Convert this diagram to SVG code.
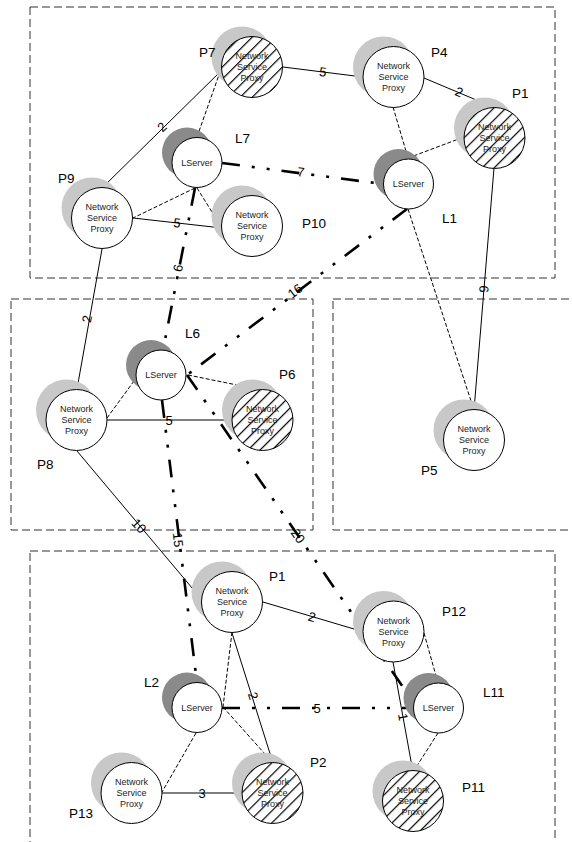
<svg xmlns="http://www.w3.org/2000/svg" xmlns:xlink="http://www.w3.org/1999/xlink" width="572" height="842" viewBox="0 0 572 842">
<style>
.box{fill:none;stroke:#333;stroke-width:1;stroke-dasharray:8 4}
.solid{stroke:#000;stroke-width:1;fill:none}
.dash{stroke:#000;stroke-width:1;fill:none;stroke-dasharray:4 2}
.heavy{stroke:#000;stroke-width:2.6;fill:none;stroke-dasharray:18 12 3 12 3 12}
.sh{fill:#c8c8c8}
.shd{fill:#8a8a8a}
.c{fill:#fff;stroke:#000;stroke-width:1}
.h{fill:url(#hatch);stroke:#000;stroke-width:1}
.nt{font-family:"Liberation Sans",Arial,sans-serif;font-size:9px;fill:#222;text-anchor:middle}
.lb{font-family:"Liberation Sans",Arial,sans-serif;font-size:13.5px;fill:#000}
.el{font-family:"Liberation Sans",Arial,sans-serif;font-size:13px;fill:#000;text-anchor:middle;dominant-baseline:central}
</style>
<defs>
<pattern id="hatch" patternUnits="userSpaceOnUse" width="8.5" height="8.5" patternTransform="rotate(45)">
<rect x="0" y="0" width="8.5" height="8.5" fill="#fff"/>
<line x1="0.6" y1="0" x2="0.6" y2="8.5" stroke="#000" stroke-width="1.2"/>
</pattern>
</defs>
<rect width="572" height="842" fill="#fff"/>
<g id="regions">
<rect class="box" x="30" y="7" width="525" height="271"/>
<rect class="box" x="11" y="299" width="302" height="231"/>
<rect class="box" x="333" y="299" width="260" height="231"/>
<rect class="box" x="30" y="551" width="525" height="320"/>
</g>
<g id="connectors">
<line class="solid" x1="102" y1="188" x2="222" y2="70"/>
<line class="solid" x1="283" y1="67" x2="363" y2="77"/>
<line class="solid" x1="424" y1="78" x2="493" y2="107"/>
<line class="solid" x1="133" y1="218" x2="222" y2="228"/>
<line class="solid" x1="102" y1="249" x2="77" y2="389"/>
<line class="solid" x1="494" y1="168" x2="474" y2="410"/>
<line class="solid" x1="107" y1="420" x2="232" y2="420"/>
<line class="solid" x1="77" y1="451" x2="203" y2="601"/>
<line class="solid" x1="263" y1="602" x2="354" y2="629"/>
<line class="solid" x1="232" y1="633" x2="273" y2="763"/>
<line class="solid" x1="162" y1="793" x2="242" y2="793"/>
<line class="solid" x1="393" y1="662" x2="413" y2="772"/>
<line class="dash" x1="197" y1="137" x2="220" y2="72"/>
<line class="dash" x1="195" y1="188" x2="133" y2="218"/>
<line class="dash" x1="197" y1="188" x2="222" y2="228"/>
<line class="dash" x1="393" y1="107" x2="408" y2="158"/>
<line class="dash" x1="408" y1="158" x2="464" y2="137"/>
<line class="dash" x1="408" y1="209" x2="474" y2="410"/>
<line class="dash" x1="107" y1="418" x2="134" y2="381"/>
<line class="dash" x1="188" y1="375" x2="237" y2="385"/>
<line class="dash" x1="232" y1="632" x2="223" y2="707"/>
<line class="dash" x1="223" y1="707" x2="273" y2="763"/>
<line class="dash" x1="196" y1="733" x2="162" y2="792"/>
<line class="dash" x1="424" y1="633" x2="438" y2="683"/>
<line class="dash" x1="438" y1="733" x2="413" y2="772"/>
<line class="heavy" x1="222" y1="163" x2="383" y2="184"/>
<line class="heavy" x1="407" y1="209" x2="187" y2="375"/>
<line class="heavy" x1="195" y1="188" x2="163" y2="350"/>
<line class="heavy" x1="162" y1="400" x2="197" y2="683"/>
<line class="heavy" x1="187" y1="375" x2="405" y2="690"/>
<line class="heavy" x1="222" y1="708" x2="413" y2="708"/>
<text class="el" transform="translate(162,127) rotate(-44)">2</text>
<text class="el" transform="translate(323,72) rotate(7)">5</text>
<text class="el" transform="translate(459,92) rotate(23)">2</text>
<text class="el" transform="translate(177,223) rotate(6)">5</text>
<text class="el" transform="translate(301,172) rotate(7)">7</text>
<text class="el" transform="translate(178,268) rotate(-79)">6</text>
<text class="el" transform="translate(295,291) rotate(-37)">16</text>
<text class="el" transform="translate(87,319) rotate(-80)">2</text>
<text class="el" transform="translate(484,289) rotate(95)">6</text>
<text class="el" transform="translate(169,420)">5</text>
<text class="el" transform="translate(178,540) rotate(83)">15</text>
<text class="el" transform="translate(298,536) rotate(55)">20</text>
<text class="el" transform="translate(139,526) rotate(47)">10</text>
<text class="el" transform="translate(312,617) rotate(16)">2</text>
<text class="el" transform="translate(253,696) rotate(73)">2</text>
<text class="el" transform="translate(317,708)">5</text>
<text class="el" transform="translate(202,793)">3</text>
<text class="el" transform="translate(403,717) rotate(80)">1</text>
</g>
<g id="P7"><circle class="sh" cx="242" cy="57" r="30.5"/><circle class="h" cx="252" cy="67" r="30.5"/><text class="nt" x="252" y="59">Network</text><text class="nt" x="252" y="70">Service</text><text class="nt" x="252" y="81">Proxy</text><text class="lb" x="199" y="57">P7</text></g>
<g id="P4"><circle class="sh" cx="383.5" cy="67" r="30.5"/><circle class="c" cx="393.5" cy="77" r="30.5"/><text class="nt" x="393.5" y="69">Network</text><text class="nt" x="393.5" y="80">Service</text><text class="nt" x="393.5" y="91">Proxy</text><text class="lb" x="431" y="57">P4</text></g>
<g id="P1-top"><circle class="sh" cx="484.5" cy="128" r="30.5"/><circle class="h" cx="494.5" cy="138" r="30.5"/><text class="nt" x="494.5" y="130">Network</text><text class="nt" x="494.5" y="141">Service</text><text class="nt" x="494.5" y="152">Proxy</text><text class="lb" x="512" y="98">P1</text></g>
<g id="L7"><circle class="shd" cx="187" cy="152.5" r="25"/><circle class="c" cx="197" cy="162.5" r="25"/><text class="nt" x="197" y="165.5">LServer</text><text class="lb" x="235" y="143">L7</text></g>
<g id="L1"><circle class="shd" cx="398.5" cy="174" r="25"/><circle class="c" cx="408.5" cy="184" r="25"/><text class="nt" x="408.5" y="187">LServer</text><text class="lb" x="442" y="223">L1</text></g>
<g id="P9"><circle class="sh" cx="92" cy="208" r="30.5"/><circle class="c" cx="102" cy="218" r="30.5"/><text class="nt" x="102" y="210">Network</text><text class="nt" x="102" y="221">Service</text><text class="nt" x="102" y="232">Proxy</text><text class="lb" x="58" y="183">P9</text></g>
<g id="P10"><circle class="sh" cx="242" cy="216" r="30.5"/><circle class="c" cx="252" cy="226" r="30.5"/><text class="nt" x="252" y="218">Network</text><text class="nt" x="252" y="229">Service</text><text class="nt" x="252" y="240">Proxy</text><text class="lb" x="302" y="228">P10</text></g>
<g id="L6"><circle class="shd" cx="151" cy="365" r="25"/><circle class="c" cx="161" cy="375" r="25"/><text class="nt" x="161" y="378">LServer</text><text class="lb" x="185" y="338">L6</text></g>
<g id="P8"><circle class="sh" cx="66.5" cy="410" r="30.5"/><circle class="c" cx="76.5" cy="420" r="30.5"/><text class="nt" x="76.5" y="412">Network</text><text class="nt" x="76.5" y="423">Service</text><text class="nt" x="76.5" y="434">Proxy</text><text class="lb" x="37" y="469">P8</text></g>
<g id="P6"><circle class="sh" cx="252.5" cy="410" r="30.5"/><circle class="h" cx="262.5" cy="420" r="30.5"/><text class="nt" x="262.5" y="412">Network</text><text class="nt" x="262.5" y="423">Service</text><text class="nt" x="262.5" y="434">Proxy</text><text class="lb" x="279" y="379">P6</text></g>
<g id="P5"><circle class="sh" cx="464" cy="430" r="30.5"/><circle class="c" cx="474" cy="440" r="30.5"/><text class="nt" x="474" y="432">Network</text><text class="nt" x="474" y="443">Service</text><text class="nt" x="474" y="454">Proxy</text><text class="lb" x="421" y="475">P5</text></g>
<g id="P1-bottom"><circle class="sh" cx="222" cy="592" r="30.5"/><circle class="c" cx="232" cy="602" r="30.5"/><text class="nt" x="232" y="594">Network</text><text class="nt" x="232" y="605">Service</text><text class="nt" x="232" y="616">Proxy</text><text class="lb" x="269" y="581">P1</text></g>
<g id="L2"><circle class="shd" cx="187" cy="697.5" r="25"/><circle class="c" cx="197" cy="707.5" r="25"/><text class="nt" x="197" y="710.5">LServer</text><text class="lb" x="144" y="687">L2</text></g>
<g id="P13"><circle class="sh" cx="121.5" cy="783" r="30.5"/><circle class="c" cx="131.5" cy="793" r="30.5"/><text class="nt" x="131.5" y="785">Network</text><text class="nt" x="131.5" y="796">Service</text><text class="nt" x="131.5" y="807">Proxy</text><text class="lb" x="69" y="818">P13</text></g>
<g id="P2"><circle class="sh" cx="262.5" cy="783" r="30.5"/><circle class="h" cx="272.5" cy="793" r="30.5"/><text class="nt" x="272.5" y="785">Network</text><text class="nt" x="272.5" y="796">Service</text><text class="nt" x="272.5" y="807">Proxy</text><text class="lb" x="310" y="767">P2</text></g>
<g id="P12"><circle class="sh" cx="383.5" cy="621.5" r="30.5"/><circle class="c" cx="393.5" cy="631.5" r="30.5"/><text class="nt" x="393.5" y="623.5">Network</text><text class="nt" x="393.5" y="634.5">Service</text><text class="nt" x="393.5" y="645.5">Proxy</text><text class="lb" x="442" y="616">P12</text></g>
<g id="L11"><circle class="shd" cx="428.5" cy="698" r="25"/><circle class="c" cx="438.5" cy="708" r="25"/><text class="nt" x="438.5" y="711">LServer</text><text class="lb" x="483" y="697">L11</text></g>
<g id="P11"><circle class="sh" cx="403" cy="791" r="30.5"/><circle class="h" cx="413" cy="801" r="30.5"/><text class="nt" x="413" y="793">Network</text><text class="nt" x="413" y="804">Service</text><text class="nt" x="413" y="815">Proxy</text><text class="lb" x="462" y="792">P11</text></g>
</svg>
